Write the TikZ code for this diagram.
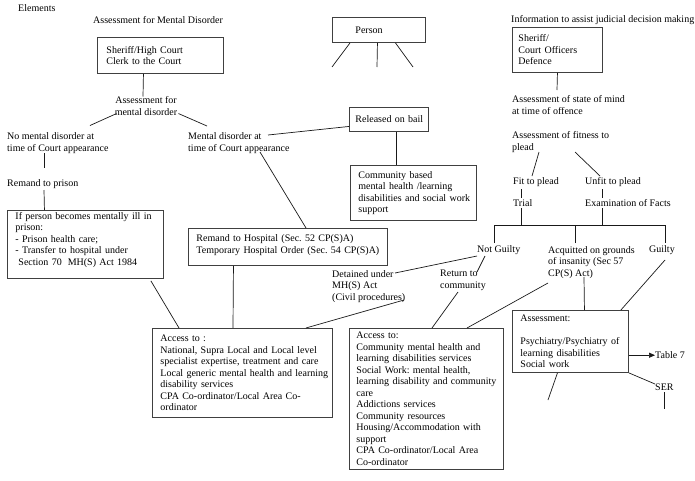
\documentclass[tikz,border=0pt]{standalone}
\usepackage{fontspec}
\setmainfont{Liberation Serif}
\usetikzlibrary{arrows.meta}
\frenchspacing
\tikzset{
  txt/.style={font=\fontsize{10}{11.5}\selectfont, inner sep=0pt, align=left, anchor=north west},
  bx/.style={draw=black!75, line width=0.9pt, font=\fontsize{10}{11.5}\selectfont, align=left, inner ysep=0pt, anchor=north west},
  ln/.style={draw=black!90, line width=0.7pt},
}
\begin{document}
\frenchspacing
\begin{tikzpicture}[x=1pt,y=-1pt]
\useasboundingbox (0,0) rectangle (695,480);
% ---------- boxes ----------
\node[bx, inner xsep=9pt, text width=108pt, minimum height=36pt] (sh1) at (97,37) {Sheriff/High Court\\Clerk to the Court};
\node[bx, inner xsep=23pt, text width=47pt, minimum height=25pt] (person) at (332,17) {Person};
\node[bx, inner xsep=6pt, text width=78pt, minimum height=45pt] (box3) at (512,27) {Sheriff/\\Court Officers\\Defence};
\node[bx, inner xsep=6pt, text width=67pt, minimum height=24pt] (bail) at (349,107) {\mbox{Released on bail}};
\node[bx, inner xsep=8pt, text width=110pt, minimum height=55pt] (comm) at (350,165) {Community based\\mental health /learning\\\mbox{disabilities and social work}\\support};
\node[bx, inner xsep=8pt, text width=140pt, minimum height=68pt] (ifp) at (7,210) {\mbox{If person becomes mentally ill in}\\prison:\\- Prison health care;\\- Transfer to hospital under\\\hspace*{3pt}Section 70\hspace{0.6em}MH(S) Act 1984\\\mbox{}};
\node[bx, inner xsep=8pt, text width=183pt, minimum height=37pt] (remand) at (188,228) {\mbox{Remand to Hospital (Sec. 52 CP(S)A)}\\\mbox{Temporary Hospital Order (Sec. 54 CP(S)A)}\\[-6pt]\mbox{}};
\node[bx, inner xsep=8pt, text width=164pt, minimum height=89pt] (acc1) at (152,328) {Access to :\\\mbox{National, Supra Local and Local level}\\\mbox{specialist expertise, treatment and care}\\\mbox{Local generic mental health and learning}\\disability services\\\mbox{CPA Co-ordinator/Local Area Co-}\\ordinator};
\node[bx, inner xsep=7pt, text width=140pt, minimum height=141pt] (acc2) at (349,328) {Access to:\\Community mental health and\\learning disabilities services\\Social Work: mental health,\\\mbox{learning disability and community}\\care\\Addictions services\\Community resources\\\mbox{Housing/Accommodation with}\\support\\\mbox{CPA Co-ordinator/Local Area}\\Co-ordinator};
\node[bx, inner xsep=8pt, text width=100pt, minimum height=62pt] (assess) at (512,310) {Assessment:\\[11.5pt]\mbox{Psychiatry/Psychiatry of}\\learning disabilities\\Social work};
% ---------- texts ----------
\node[txt] (elem) at (18,4.5) {Elements};
\node[txt] (amdT) at (93,16.5) {Assessment for Mental Disorder};
\node[txt, align=center, anchor=north] (amd) at (146,96.5) {Assessment for\\mental disorder};
\node[txt] (nomd) at (7,132.5) {No mental disorder at\\time of Court appearance};
\node[txt] (md) at (188,132.5) {Mental disorder at\\time of Court appearance};
\node[txt] (rp) at (7,179.5) {Remand to prison};
\node[txt] (info) at (511,15.5) {Information to assist judicial decision making};
\node[txt] (asm) at (512,95.5) {Assessment of state of mind\\at time of offence};
\node[txt] (fit) at (512,131.5) {Assessment of fitness to\\plead};
\node[txt] (fitp) at (513,177.5) {Fit to plead};
\node[txt] (unfit) at (585,177.5) {Unfit to plead};
\node[txt] (trial) at (513,199.5) {Trial};
\node[txt] (exam) at (585,199.5) {Examination of Facts};
\node[txt] (notg) at (477,245.5) {Not Guilty};
\node[txt] (acq) at (548,246) {Acquitted on grounds\\of insanity (Sec 57\\CP(S) Act)};
\node[txt] (guilty) at (649,245.5) {Guilty};
\node[txt] (det) at (332,270) {Detained under\\MH(S) Act\\(Civil procedures)};
\node[txt] (ret) at (440,270) {Return to\\community};
\node[txt] (tab) at (655,351.5) {Table 7};
\node[txt] (ser) at (655,383.5) {SER};
% free ends
\coordinate (pl1) at (332,67);
\coordinate (pl2) at (377,67);
\coordinate (pl3) at (413,67);
\coordinate (serend) at (664,409);
\coordinate (asend) at (548,400);
% ---------- connectors ----------
\draw[ln] ([xshift=-17pt]sh1.south) -- ([xshift=-3pt]amd.north);
\draw[ln] ([shift={(2,-2)}]amd.south west) -- ([shift={(83,-7)}]nomd.north west);
\draw[ln] ([shift={(1,-2)}]amd.south east) -- ([shift={(19,-6.5)}]md.north west);
\draw[ln] ([shift={(80,2.5)}]md.north west) -- ([yshift=-7pt]bail.west);
\draw[ln] ([shift={(72,19.5)}]md.north west) -- ([xshift=118pt]remand.north west);
\draw[ln] ([shift={(37,20.5)}]nomd.north west) -- ([shift={(37,-11.5)}]rp.north west);
\draw[ln] ([shift={(37,10.5)}]rp.north west) -- ([xshift=-41pt]ifp.north);
\draw[ln] ([xshift=-13pt,yshift=-2pt]ifp.south east) -- ([xshift=27pt]acc1.north west);
\draw[ln] ([xshift=-54.5pt]remand.south) -- ([xshift=81pt]acc1.north west);
\draw[ln] ([xshift=7.5pt]bail.south) -- ([xshift=-17pt]comm.north);
\draw[ln] ([xshift=18pt]person.south west) -- (pl1);
\draw[ln] ([xshift=-1.5pt]person.south) -- (pl2);
\draw[ln] ([xshift=16.5pt]person.south) -- (pl3);
\draw[ln] (box3.south) -- ([shift={(45,-5.5)}]asm.north west);
\draw[ln] ([shift={(27,20.5)}]fit.north west) -- ([shift={(19,-1.5)}]fitp.north west);
\draw[ln] ([shift={(63,20.5)}]fit.north west) -- ([shift={(15,-1.5)}]unfit.north west);
\draw[ln] ([shift={(8,11.5)}]fitp.north west) -- ([shift={(8,-1.5)}]trial.north west);
\draw[ln] ([shift={(17,11.5)}]unfit.north west) -- ([shift={(17,-1.5)}]exam.north west);
\draw[ln] ([shift={(8,8.5)}]trial.north west) -- ++(0,17);
\draw[ln] ([shift={(17,8.5)}]exam.north west) -- ++(0,17);
\draw[ln] ([shift={(17,-2.5)}]notg.north west) -- ++(0,-18) -| ([shift={(16,-2.5)}]guilty.north west);
\draw[ln] ([shift={(27,-3)}]acq.north west) -- ++(0,-18);
\draw[ln] ([shift={(0,10.5)}]notg.north west) -- ([shift={(63,3)}]det.north west);
\draw[ln] ([shift={(8,10.5)}]notg.north west) -- ([shift={(37,2)}]ret.north west);
\draw[ln] ([shift={(72,30)}]det.north west) -- ([xshift=-27pt]acc1.north east);
\draw[ln] ([shift={(18,22)}]ret.north west) -- ([xshift=83pt]acc2.north west);
\draw[ln] ([shift={(0,37)}]acq.north west) -- ([xshift=118pt]acc2.north west);
\draw[ln] ([shift={(36,31)}]acq.north west) -- ([xshift=14pt]assess.north);
\draw[ln] ([shift={(16,14.5)}]guilty.north west) -- ([xshift=-8pt]assess.north east);
\draw[ln, -{Triangle[length=6pt,width=5pt]}] (assess.east |- tab.west) -- (tab.west);
\draw[ln] (assess.south east) -- ([shift={(0,0.5)}]ser.north west);
\draw[ln] ([shift={(9,8.5)}]ser.north west) -- (serend);
\draw[ln] ([xshift=-13pt]assess.south) -- (asend);
\end{tikzpicture}
\end{document}
